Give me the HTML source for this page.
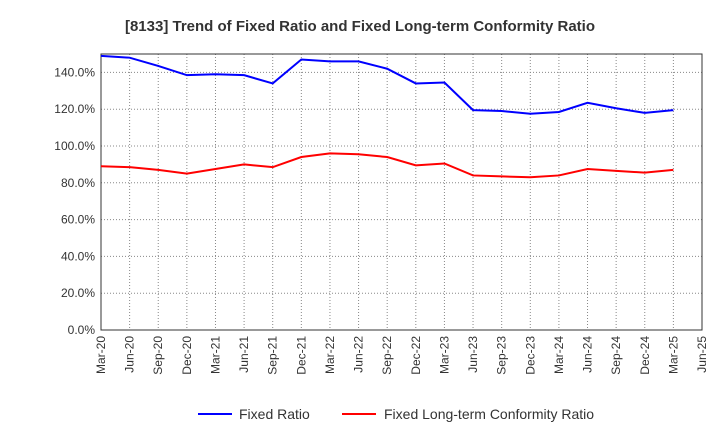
<!DOCTYPE html>
<html><head><meta charset="utf-8"><style>
body{margin:0;background:#fff;font-family:"Liberation Sans",sans-serif;}
svg text{font-family:"Liberation Sans",sans-serif;}
</style></head><body>
<svg id="chart" width="720" height="440">
<text x="360" y="31" text-anchor="middle" font-size="15" font-weight="bold" fill="#333">[8133]  Trend of Fixed Ratio and Fixed Long-term Conformity Ratio</text>
<g id="grid"></g><g id="axes"></g><g id="series"></g>
<g>
<line x1="198" y1="414" x2="232" y2="414" stroke="#0000ff" stroke-width="2"/>
<text x="239" y="419" font-size="14" fill="#333">Fixed Ratio</text>
<line x1="342" y1="414" x2="376" y2="414" stroke="#ff0000" stroke-width="2"/>
<text x="384" y="419" font-size="14" fill="#333">Fixed Long-term Conformity Ratio</text>
</g>
</svg>
<script>
const xLabels=["Mar-20","Jun-20","Sep-20","Dec-20","Mar-21","Jun-21","Sep-21","Dec-21","Mar-22","Jun-22","Sep-22","Dec-22","Mar-23","Jun-23","Sep-23","Dec-23","Mar-24","Jun-24","Sep-24","Dec-24","Mar-25","Jun-25"];
const yTicks=[0,20,40,60,80,100,120,140];
const fixedRatio=[149,148,143.5,138.5,139,138.5,134,147,146,146,142,134,134.5,119.5,119,117.5,118.5,123.5,120.5,118,119.5];
const conformityRatio=[89,88.5,87,85,87.5,90,88.5,94,96,95.5,94,89.5,90.5,84,83.5,83,84,87.5,86.5,85.5,87];
const L=101,R=702,T=54,B=330,YMAX=150;
const xs=i=>L+i*(R-L)/(xLabels.length-1);
const ys=v=>B-v/YMAX*(B-T);
const NS="http://www.w3.org/2000/svg";
function mk(t,a,p){const e=document.createElementNS(NS,t);for(const k in a)e.setAttribute(k,a[k]);p.appendChild(e);return e;}
const grid=document.getElementById('grid'),axes=document.getElementById('axes'),ser=document.getElementById('series');
xLabels.forEach((l,i)=>{
 const g=mk('line',{x1:xs(i),x2:xs(i),y1:T,y2:B,stroke:'#888','stroke-dasharray':'1,2','stroke-width':1},grid);
 
 
 const t=mk('text',{transform:`translate(${xs(i)+4},${B+6}) rotate(-90)`,'text-anchor':'end','font-size':12,fill:'#333'},axes);
 t.textContent=l;
 
 
});
yTicks.forEach(v=>{
 const g=mk('line',{x1:L,x2:R,y1:ys(v),y2:ys(v),stroke:'#888','stroke-dasharray':'1,2','stroke-width':1},grid);
 
 
 const t=mk('text',{x:L-6,y:ys(v)+4,'text-anchor':'end','font-size':12,fill:'#333'},axes);
 t.textContent=v.toFixed(1)+'%';
 
 
});
const fr=mk('rect',{x:L,y:T,width:R-L,height:B-T,fill:'none',stroke:'#333','stroke-width':1},axes);


function line(d,c,n){const p=mk('polyline',{points:d.map((v,i)=>xs(i)+','+ys(v)).join(' '),fill:'none',stroke:c,'stroke-width':2},ser);
 
 }
line(fixedRatio,'#0000ff','fixed-ratio-line');
line(conformityRatio,'#ff0000','conformity-ratio-line');
</script>
</body></html>
